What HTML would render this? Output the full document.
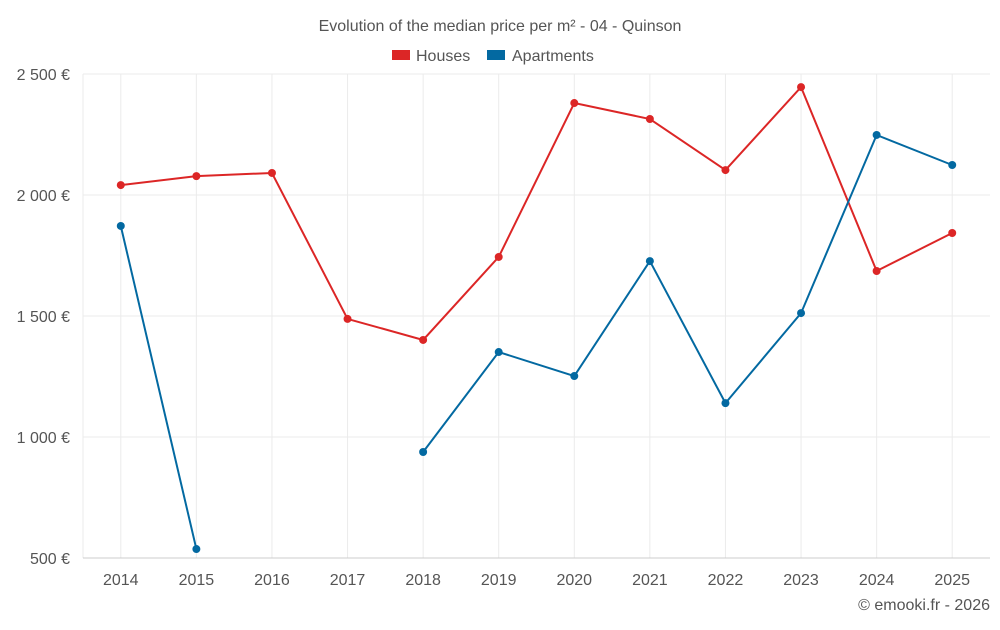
<!DOCTYPE html>
<html><head><meta charset="utf-8"><style>
body{margin:0;background:#fff;font-family:"Liberation Sans",sans-serif}
svg text{font-family:"Liberation Sans",sans-serif;fill:#555}
</style></head><body>
<svg width="1000" height="625" id="c">
<text x="500" y="31" text-anchor="middle" font-size="16">Evolution of the median price per m² - 04 - Quinson</text>
<g>
<rect x="392" y="50" width="18" height="10" fill="#dc2626"/>
<text x="416" y="61" font-size="16">Houses</text>
<rect x="487" y="50" width="18" height="10" fill="#0369a1"/>
<text x="512" y="61" font-size="16">Apartments</text>
</g>
<g id="grid"></g><g id="axes"></g><g id="series"></g>
<text x="990" y="610" text-anchor="end" font-size="16">© emooki.fr - 2026</text>
</svg>
<script>
const years=[2014,2015,2016,2017,2018,2019,2020,2021,2022,2023,2024,2025];
const houses=[2041,2078,2091,1488,1401,1744,2380,2314,2103,2446,1686,1843];
const apartments=[1872,537,null,null,938,1351,1252,1727,1140,1512,2248,2124];
const yTicks=[500,1000,1500,2000,2500];
const yTickLabels=["500 €","1 000 €","1 500 €","2 000 €","2 500 €"];
const L=83,R=990,T=74,B=558,ymin=500,ymax=2500;
const bw=(R-L)/years.length;
const x=i=>L+bw*(i+0.5);
const y=v=>B-(v-ymin)/(ymax-ymin)*(B-T);
const NS="http://www.w3.org/2000/svg";
function mk(tag,attrs,parent){const e=document.createElementNS(NS,tag);for(const k in attrs)e.setAttribute(k,attrs[k]);document.getElementById(parent).appendChild(e);return e;}
yTicks.forEach((t,i)=>{
 const g=mk('line',{x1:L,x2:R,y1:y(t),y2:y(t),stroke:'#ebebeb'},'grid');
 
 
 const tx=mk('text',{x:70,y:y(t)+6,'text-anchor':'end','font-size':16},'axes');
 tx.textContent=yTickLabels[i];
 
 
});
const lg=mk('line',{x1:L,x2:L,y1:T,y2:B,stroke:'#ebebeb'},'grid');


years.forEach((yr,i)=>{
 const g=mk('line',{x1:x(i),x2:x(i),y1:T,y2:B,stroke:'#ebebeb'},'grid');
 
 
});
const ax=mk('line',{x1:L,x2:R,y1:B,y2:B,stroke:'#ccc'},'axes');


years.forEach((yr,i)=>{
 const tx=mk('text',{x:x(i),y:585,'text-anchor':'middle','font-size':16},'axes');
 tx.textContent=yr;
 
 
});
function draw(vals,color,name){
 let d='',pen=false;
 vals.forEach((v,i)=>{if(v==null){pen=false;return;}d+=(pen?'L':'M')+x(i)+' '+y(v)+' ';pen=true;});
 const p=mk('path',{d:d,fill:'none',stroke:color,'stroke-width':2},'series');
 
 
 vals.forEach((v,i)=>{if(v==null)return;
  const c=mk('circle',{cx:x(i),cy:y(v),r:4,fill:color},'series');
  
  
 });
}
draw(houses,'#dc2626','houses');
draw(apartments,'#0369a1','apartments');
</script>
</body></html>
